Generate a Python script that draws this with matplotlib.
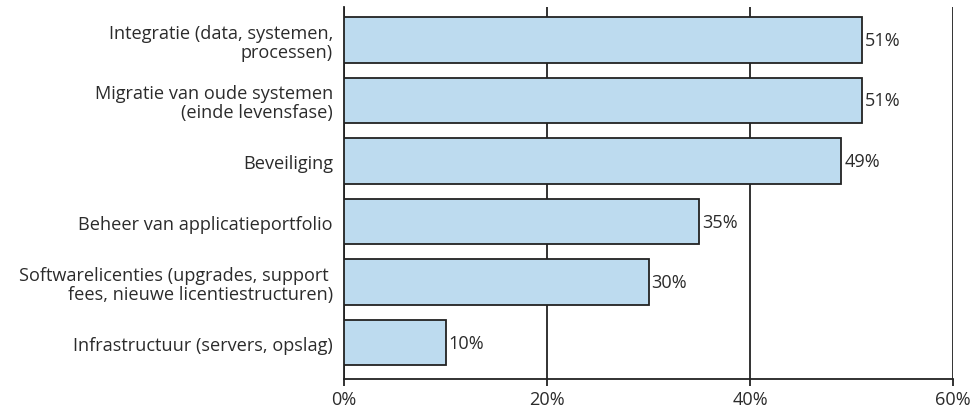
import numpy as np
import matplotlib.pyplot as plt

plt.rcParams['font.family'] = ['Open Sans', 'DejaVu Sans']

# Uitdagingen en aandeel respondenten (%)
categorieen = [
    "Integratie (data, systemen,\nprocessen)",
    "Migratie van oude systemen\n(einde levensfase)",
    "Beveiliging",
    "Beheer van applicatieportfolio",
    "Softwarelicenties (upgrades, support \nfees, nieuwe licentiestructuren)",
    "Infrastructuur (servers, opslag)",
]
percentages = [51, 51, 49, 35, 30, 10]
xticks = [0, 20, 40, 60]

tekst = '#2b2b2b'
fs = 13.1
fig = plt.figure(figsize=(9.72, 4.10), dpi=100)
ax = fig.add_axes([0.354, 0.073, 0.6265, 0.907])

y = np.arange(len(categorieen))
ax.barh(y, percentages, height=0.75, color='#bddbef', edgecolor='#222222',
        linewidth=1.3, zorder=3)

for yi, v in zip(y, percentages):
    ax.text(v + 0.3, yi, f"{v}%", va='center', ha='left', fontsize=fs, color=tekst)

ax.set_ylim(len(categorieen) - 0.4, -0.54)
ax.set_xlim(0, 60)
ax.set_yticks(y)
ax.set_yticklabels(categorieen, fontsize=fs, color=tekst, linespacing=1.05)
ax.set_xticks(xticks)
ax.set_xticklabels([f"{t}%" for t in xticks], fontsize=fs, color=tekst)
ax.tick_params(axis='y', length=0, pad=8)
ax.tick_params(axis='x', length=5, width=1.3, color='#222222', pad=3)

ax.grid(axis='x', color='#222222', linewidth=1.3, zorder=0)
for s in ['top', 'right']:
    ax.spines[s].set_visible(False)
for s in ['left', 'bottom']:
    ax.spines[s].set_linewidth(1.3)
    ax.spines[s].set_color('#222222')

fig.savefig('out.png', dpi=100)
